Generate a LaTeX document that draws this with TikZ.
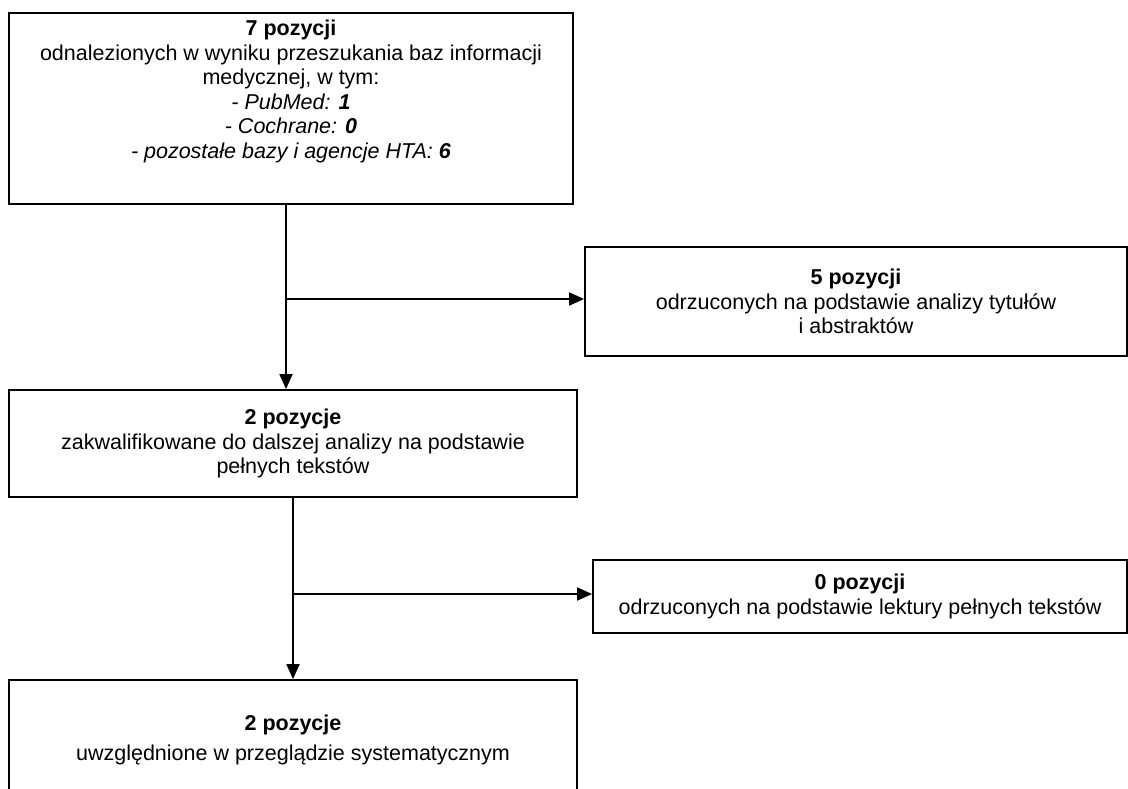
\documentclass[tikz,border=0pt]{standalone}
\usepackage{fontspec}
\setmainfont{Liberation Sans}
\usepackage{tikz}
\usetikzlibrary{positioning}
\usetikzlibrary{arrows.meta}

\begin{document}
\begin{tikzpicture}[x=1pt,y=-1pt,line width=1.8pt,>={Triangle[length=15pt,width=13pt]}]
    % ramki z tekstem
    \tikzstyle{box}=[draw,rectangle,align=center,inner sep=0pt,font=\fontsize{21.5}{24.5}\selectfont]
    \useasboundingbox (0,0) rectangle (1128,789);
    \clip (0,0) rectangle (1128,789);
    \node[box,minimum width=564pt,minimum height=191pt] (q_0) at (291,108.5)
      {\textbf{7 pozycji}\\ odnalezionych w wyniku przeszukania baz informacji\\ medycznej, w tym:\\
       \textit{- PubMed: \textbf{1}}\\ \textit{- Cochrane: \textbf{0}}\\
       \textit{- pozostałe bazy i agencje HTA: \textbf{6}}\\[14pt]\mbox{}};
    \node[box,minimum width=542pt,minimum height=109pt] (q_1) at (856,301.5)
      {\textbf{5 pozycji}\\ odrzuconych na podstawie analizy tytułów\\ i abstraktów};
    \node[box,minimum width=568pt,minimum height=107pt] (q_2) at (293,443.5)
      {\textbf{2 pozycje}\\ zakwalifikowane do dalszej analizy na podstawie\\ pełnych tekstów};
    \node[box,minimum width=534pt,minimum height=73pt] (q_3) at (860,596.5)
      {\textbf{0 pozycji}\\ odrzuconych na podstawie lektury pełnych tekstów};
    \node[box,minimum width=568pt,minimum height=120pt] (q_4) at (293,740)
      {\textbf{2 pozycje}\\[5pt] uwzględnione w przeglądzie systematycznym};

    \coordinate (s_1) at (286,299);
    \coordinate (s_2) at (293,594);
    \draw[->] (q_0.south -| s_1) -- (q_2.north -| s_1);
    \draw[->] (s_1) -- (s_1 -| q_1.west);
    \draw[->] (q_2.south) -- (q_4.north);
    \draw[->] (s_2) -- (s_2 -| q_3.west);
  \end{tikzpicture}
\end{document}
